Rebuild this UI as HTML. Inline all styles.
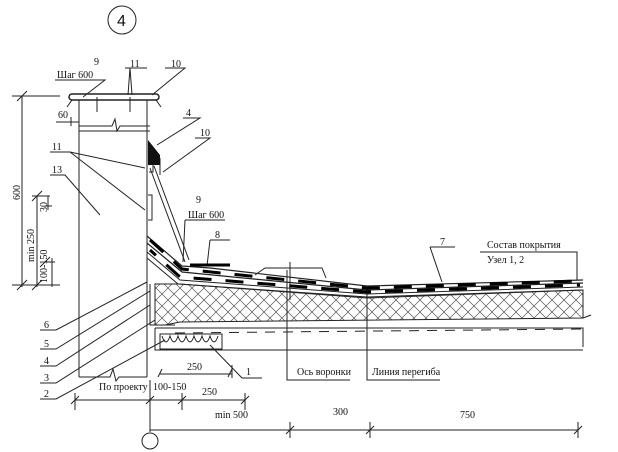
<!DOCTYPE html>
<html><head><meta charset="utf-8"><style>
html,body{margin:0;padding:0;background:#fff}
svg{display:block}
text{font-family:"Liberation Serif",serif;font-size:10px;fill:#111}
</style></head><body>
<svg width="618" height="452" viewBox="0 0 618 452" xmlns="http://www.w3.org/2000/svg">
<defs>
<pattern id="xh" width="12" height="12" patternUnits="userSpaceOnUse">
<path d="M0 0L12 12M12 0L0 12" stroke="#555" stroke-width="0.7"/>
</pattern>
</defs>
<g stroke="#222" fill="none" stroke-width="1">
<circle cx="122" cy="20" r="14"/>
<line x1="79" y1="100" x2="79" y2="377"/>
<line x1="147" y1="100" x2="147" y2="377"/>
<path d="M79 377H110l3-8 3 12 3-4H147"/>
<path d="M79 126H112l3-7 2 12 3-5H150"/>
<path d="M79 131H150"/>
<path d="M72 94H156a3 3 0 0 1 0 6H72a3 3 0 0 1 0-6z" stroke-width="1.5"/>
<path d="M72 100l-5 7M156 100l5 7"/>
<line x1="97" y1="97" x2="97" y2="112"/><line x1="130" y1="97" x2="130" y2="112"/>
<line x1="22" y1="96" x2="22" y2="287"/>
<path d="M12 96H60M12 285H60M17 101l10-10M17 290l10-10"/>
<line x1="37" y1="196" x2="37" y2="287"/>
<path d="M32 196H50M32 201l10-10M45 206H52M45 262H55M32 290l10-10M40 267l10-10"/>
<line x1="48" y1="196" x2="48" y2="210"/>
<line x1="52" y1="258" x2="52" y2="287"/>
<path d="M56 122H79M71 117v9"/>
<path d="M55 80H105L83 97"/>
<path d="M125 68H147M130 68l-2 27M130 68l2 27"/>
<path d="M165 68H185L152 95"/>
<path d="M183 118H200L157 145"/>
<path d="M195 138H210L163 172"/>
<path d="M50 152H70L145 168M70 152L145 210"/>
<path d="M50 175H65L100 215"/>
<path d="M185 220H225M185 220L183 262"/>
<path d="M210 240H230M210 240L207 266"/>
<path d="M430 247H455M430 247L442 282"/>
<path d="M480 252H577V280"/>
<path d="M160 158V175"/>
<path d="M150 168L185 262M154 166L189 260"/>
<path d="M148 195h4v25h-4"/>
<path d="M149 160h4v12h-4"/>
<path d="M147 236L182 266L210 268L367 286L583 280" stroke-width="1.2"/>
<path d="M147 243L182 272L367 290L583 283" stroke-width="1.2"/>
<path d="M147 252L180 280L367 294L583 287"/>
<path d="M147 258L178 284L367 297L583 290"/>
<path d="M155 284L180 284L367 298L583 290V318L180 322L165 325H155Z" fill="url(#xh)"/>
<path d="M150 284V325H175"/>
<path d="M155 328H583V347M155 328V350H583"/>
<path d="M175 333L583 329" stroke-dasharray="10 8"/>
<path d="M583 318l8 -3"/>
<rect x="160" y="334" width="62" height="15"/>
<path d="M162 336q4 12 8 0q4 12 8 0q4 12 8 0q4 12 8 0q4 12 8 0q4 12 8 0q4 12 8 0"/>
<path d="M255 275L265 268L322 268L326 278M290 262V300"/>
<path d="M287 270V380H350"/>
<path d="M367 288V380H440"/>
<path d="M40 330H56L147 282"/>
<path d="M40 349H56L150 291"/>
<path d="M40 366H56L150 305"/>
<path d="M40 383H56L155 320"/>
<path d="M40 399H56L165 340"/>
<path d="M160 374H232M162 369l-4 8M232 369l-4 8M232 365V378"/>
<path d="M210 345L242 378H262"/>
<path d="M75 400H245M75 393V410M150 380V432M182 393V410M245 393V410"/>
<path d="M71 404l8-8M146 404l8-8M178 404l8-8M241 404l8-8"/>
<path d="M150 430H578M290 422V438M370 422V438M578 422V438"/>
<path d="M286 434l8-8M366 434l8-8M574 434l8-8"/>
<circle cx="150" cy="441" r="8"/>
</g>
<path d="M148 140L160 155L160 165L148 165Z" fill="#111"/>
<g stroke="#000" stroke-width="3" stroke-dasharray="18 14" fill="none">
<path d="M150 240L182 269L367 288L580 281"/>
<path d="M150 250L180 277L367 292L580 285" stroke-dashoffset="10"/>
</g>
<path d="M190 265H230" stroke="#000" stroke-width="3"/>
<text x="117" y="26" style="font-family:'Liberation Sans',sans-serif;font-size:16px">4</text>
<text x="94" y="65">9</text>
<text x="57" y="78">Шаг 600</text>
<text x="130" y="67">11</text>
<text x="171" y="67">10</text>
<text x="58" y="118">60</text>
<text x="186" y="116">4</text>
<text x="200" y="136">10</text>
<text x="52" y="150">11</text>
<text x="52" y="173">13</text>
<text x="196" y="203">9</text>
<text x="188" y="218">Шаг 600</text>
<text x="215" y="238">8</text>
<text x="440" y="245">7</text>
<text x="487" y="248">Состав покрытия</text>
<text x="487" y="263">Узел 1, 2</text>
<text x="44" y="328">6</text>
<text x="44" y="347">5</text>
<text x="44" y="364">4</text>
<text x="44" y="381">3</text>
<text x="44" y="397">2</text>
<text x="187" y="370">250</text>
<text x="246" y="375">1</text>
<text x="297" y="375">Ось воронки</text>
<text x="372" y="375">Линия перегиба</text>
<text x="99" y="390">По проекту</text>
<text x="153" y="390">100-150</text>
<text x="202" y="395">250</text>
<text x="215" y="418">min 500</text>
<text x="333" y="415">300</text>
<text x="460" y="418">750</text>
<text transform="translate(20,200) rotate(-90)">600</text>
<text transform="translate(34,262) rotate(-90)">min 250</text>
<text transform="translate(47,212) rotate(-90)">30</text>
<text transform="translate(47,283) rotate(-90)">100-150</text>
</svg>
</body></html>
